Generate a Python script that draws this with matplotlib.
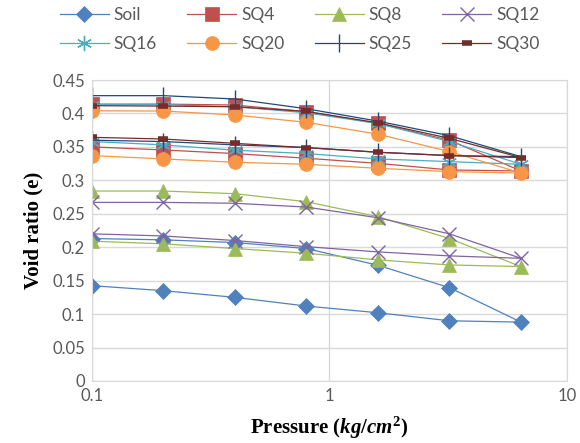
import matplotlib
matplotlib.use("Agg")
import matplotlib.pyplot as plt
from matplotlib.ticker import FixedLocator, FuncFormatter, NullLocator

# pressure steps: loading then unloading
pressure = [0.1, 0.2, 0.4, 0.8, 1.6, 3.2, 6.4, 3.2, 1.6, 0.8, 0.4, 0.2, 0.1]

soil = [0.213, 0.211, 0.207, 0.198, 0.173, 0.1395, 0.088,
        0.090, 0.102, 0.112, 0.125, 0.135, 0.1425]
sq4 = [0.414, 0.414, 0.4126, 0.4027, 0.385, 0.360, 0.314,
       0.3155, 0.3254, 0.333, 0.340, 0.3454, 0.350]
sq8 = [0.284, 0.284, 0.280, 0.268, 0.2456, 0.213, 0.171,
       0.1735, 0.181, 0.191, 0.198, 0.205, 0.209]
sq12 = [0.267, 0.267, 0.2657, 0.260, 0.244, 0.220, 0.1834,
        0.187, 0.193, 0.2008, 0.210, 0.2168, 0.220]
sq16 = [0.413, 0.413, 0.410, 0.401, 0.385, 0.358, 0.324,
        0.328, 0.332, 0.340, 0.345, 0.353, 0.358]
sq20 = [0.404, 0.4036, 0.3977, 0.3867, 0.369, 0.343, 0.311,
        0.313, 0.318, 0.324, 0.327, 0.332, 0.337]
sq25 = [0.4266, 0.4266, 0.4216, 0.407, 0.3885, 0.3667, 0.3354,
        0.337, 0.342, 0.349, 0.353, 0.358, 0.360]
sq30 = [0.4116, 0.411, 0.410, 0.403, 0.386, 0.3628, 0.334,
        0.337, 0.342, 0.3488, 0.3553, 0.3618, 0.3643]

names = ["Soil", "SQ4", "SQ8", "SQ12", "SQ16", "SQ20", "SQ25", "SQ30"]
values = [soil, sq4, sq8, sq12, sq16, sq20, sq25, sq30]

styles = [
    dict(color="#4F81BD", marker="D", ms=8.5),
    dict(color="#C0504D", marker="s", ms=9.5),
    dict(color="#9BBB59", marker="^", ms=10),
    dict(color="#8064A2", marker="x", ms=10, mew=1.0),
    dict(color="#4BACC6", marker=(6, 2, 0), ms=11, mew=1.0),
    dict(color="#F79646", marker="o", ms=10),
    dict(color="#1F497D", marker="|", ms=13, mew=1.0),
    dict(color="#772C2A", marker="_", ms=7, mew=4),
]

plt.rcParams["font.family"] = ["Lato", "DejaVu Sans"]
plt.rcParams["mathtext.fontset"] = "custom"
plt.rcParams["mathtext.rm"] = "Liberation Serif:bold"
plt.rcParams["mathtext.it"] = "Liberation Serif:italic:bold"
plt.rcParams["mathtext.bf"] = "Liberation Serif:bold"

fig = plt.figure(figsize=(5.8, 4.43), dpi=100)
ax = fig.add_axes([0.1586, 0.14, 0.819, 0.6794])

handles = []
for name, vals, st in zip(names, values, styles):
    st = dict(st)
    h, = ax.plot(pressure, vals, label=name, lw=0.9, color=st.pop("color"),
                 marker=st.pop("marker"), markersize=st.pop("ms"),
                 markeredgewidth=st.pop("mew", 0.5), **st)
    handles.append(h)

ax.set_xscale("log")
ax.set_xlim(0.1, 10)
ax.set_ylim(0, 0.45)
ax.xaxis.set_major_locator(FixedLocator([0.1, 1, 10]))
ax.xaxis.set_minor_locator(NullLocator())
ax.xaxis.set_major_formatter(FuncFormatter(lambda v, p: "%g" % v))
ax.set_yticks([i * 0.05 for i in range(10)])
ax.yaxis.set_major_formatter(FuncFormatter(lambda v, p: "%g" % round(v, 2)))

ax.grid(True, color="#D9D9D9", lw=1.0)
ax.set_axisbelow(True)
for s in ax.spines.values():
    s.set_color("#D9D9D9")
ax.tick_params(length=0, labelsize=12, labelcolor="#595959", pad=5)

ax.set_xlabel("Pressure ($kg/cm^{2}$)", family="Liberation Serif",
              fontweight="bold", fontsize=15, labelpad=8)
ax.set_ylabel("Void ratio (e)", family="Liberation Serif",
              fontweight="bold", fontsize=15, labelpad=6)

# row-wise legend order
order = [0, 4, 1, 5, 2, 6, 3, 7]
leg = fig.legend([handles[i] for i in order], [names[i] for i in order],
                 loc="upper left", bbox_to_anchor=(60 / 580, 1 - 7 / 443),
                 ncol=4, frameon=False, fontsize=12.5, handlelength=2.8,
                 columnspacing=1.75, handletextpad=0.3, labelspacing=0.75,
                 borderpad=0, borderaxespad=0)
for t in leg.get_texts():
    t.set_color("#595959")

fig.savefig("out.png", dpi=100)
